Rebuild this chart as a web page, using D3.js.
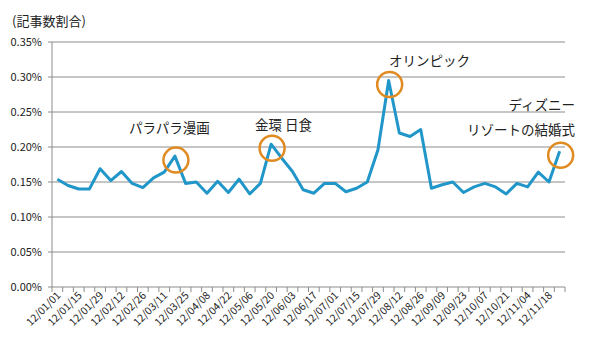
<!DOCTYPE html>
<html><head><meta charset="utf-8">
<script src="https://cdn.jsdelivr.net/npm/d3@7"></script>
<style>
body{margin:0;background:#fff;}
text{font-family:"Noto Sans CJK JP","Noto Sans",sans-serif;}
</style></head>
<body><svg id="c" width="590" height="347"></svg>
<script>
const categories = ["12/01/01","12/01/08","12/01/15","12/01/22","12/01/29","12/02/05","12/02/12","12/02/19","12/02/26","12/03/04","12/03/11","12/03/18","12/03/25","12/04/01","12/04/08","12/04/15","12/04/22","12/04/29","12/05/06","12/05/13","12/05/20","12/05/27","12/06/03","12/06/10","12/06/17","12/06/24","12/07/01","12/07/08","12/07/15","12/07/22","12/07/29","12/08/05","12/08/12","12/08/19","12/08/26","12/09/02","12/09/09","12/09/16","12/09/23","12/09/30","12/10/07","12/10/14","12/10/21","12/10/28","12/11/04","12/11/11","12/11/18","12/11/25"];
const values = [0.154,0.145,0.140,0.140,0.169,0.152,0.165,0.148,0.142,0.156,0.164,0.187,0.148,0.150,0.134,0.151,0.135,0.154,0.133,0.148,0.204,0.184,0.165,0.139,0.134,0.148,0.148,0.136,0.141,0.150,0.196,0.295,0.220,0.215,0.225,0.141,0.146,0.150,0.135,0.143,0.148,0.143,0.133,0.148,0.143,0.164,0.150,0.194];
const yTicks = [0,0.05,0.10,0.15,0.20,0.25,0.30,0.35];
const highlights = [11,20,31,47];
const annotations = [
  {lines:["パラパラ漫画"], x:129, y:133},
  {lines:["金環 日食"], x:255, y:130},
  {lines:["オリンピック"], x:389, y:66},
  {lines:["ディズニー","リゾートの結婚式"], x:575, y:110, anchor:"end"}
];

const svg = d3.select("#c");
const L=52, R=565, T=42, B=287;
const x = d3.scaleBand().domain(categories).range([L,R]);
const y = d3.scaleLinear().domain([0,0.35]).range([B,T]);

svg.append("text").attr("x",12).attr("y",26).attr("font-size",13).attr("fill","#222").text("(記事数割合)");

// gridlines
svg.append("g").selectAll("line").data(yTicks).join("line")
  .attr("x1",L-4).attr("x2",R).attr("y1",d=>y(d)).attr("y2",d=>y(d))
  .attr("stroke","#8c8c8c").attr("stroke-width",1);
svg.append("g").selectAll("text").data(yTicks).join("text")
  .attr("x",42).attr("y",d=>y(d)+4).attr("text-anchor","end")
  .attr("font-size",11).attr("fill","#222").text(d=>d.toFixed(2)+"%");
svg.append("line").attr("x1",L).attr("x2",L).attr("y1",T).attr("y2",B).attr("stroke","#8c8c8c");

// x axis ticks
const bounds = categories.map((c,i)=>L+i*x.bandwidth()).concat([R]);
svg.append("g").selectAll("line").data(bounds).join("line")
  .attr("x1",d=>d).attr("x2",d=>d).attr("y1",B).attr("y2",B+5).attr("stroke","#8c8c8c");
svg.append("g").selectAll("text").data(categories.filter((c,i)=>i%2===0)).join("text")
  .attr("transform",d=>`translate(${x(d)+x.bandwidth()/2+4},${B+9}) rotate(-45)`)
  .attr("text-anchor","end").attr("font-size",10.5).attr("fill","#222").text(d=>d);

// line
const line = d3.line().x((d,i)=>x(categories[i])+x.bandwidth()/2).y(d=>y(d));
svg.append("path").datum(values).attr("d",line).attr("fill","none")
  .attr("stroke","#2196c9").attr("stroke-width",3).attr("stroke-linejoin","round");

// circles
svg.append("g").selectAll("circle").data(highlights).join("circle")
  .attr("cx",i=>x(categories[i])+x.bandwidth()/2+1).attr("cy",i=>y(values[i])+4)
  .attr("r",12.5).attr("fill","none").attr("stroke","#e08a22").attr("stroke-width",2.5);

// annotations
annotations.forEach(a=>{
  a.lines.forEach((t,k)=>{
    svg.append("text").attr("x",a.x).attr("y",a.y+k*25).attr("font-size",13.5)
      .attr("text-anchor",a.anchor||"start").attr("fill","#222").text(t);
  });
});
</script></body></html>
